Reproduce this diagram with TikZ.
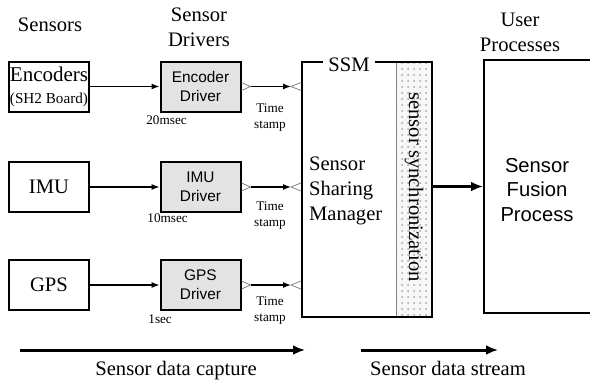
\documentclass[tikz,border=0pt]{standalone}
\usepackage{fontspec}
\setmainfont{Liberation Serif}
\setsansfont{Liberation Sans}
\usetikzlibrary{arrows.meta, positioning, calc, patterns}

\begin{document}
\begin{tikzpicture}[x=0.5pt, y=-0.5pt,
    big/.style={font=\fontsize{10.3}{12.5}\selectfont},
    small/.style={font=\fontsize{6.6}{8}\selectfont, inner sep=0pt},
    sensorbox/.style={draw, line width=1pt, minimum width=40pt, minimum height=25pt, inner sep=0pt, align=center},
    driverbox/.style={sensorbox, fill=gray!22, font=\sffamily\fontsize{7.7}{9.5}\selectfont},
    conn/.style={line width=0.6pt, -{Latex[length=4pt,width=3pt]}},
    port/.style={draw=gray, line width=0.4pt},
    bigarrow/.style={line width=1.5pt, -{Latex[length=6pt,width=5pt]}}]
            \useasboundingbox (0,0) rectangle (590,381);
            \clip (0,0) rectangle (590,381);

            % column titles
            \node[big] (hsensors) at (50,25) {Sensors};
            \node[big, align=center] (hdrivers) at (199,27.5) {Sensor\\Drivers};
            \node[big, align=center] (huser) at (520,32.5) {User\\Processes};

            % sensors and their drivers
            \node[sensorbox] (enc) at (49,86.5) {\fontsize{10.5}{10}\selectfont Encoders\\[-1pt]{\fontsize{7.6}{9}\selectfont (SH2 Board)}};
            \node[driverbox] (encdrv) at (200.5,86.5) {Encoder\\Driver};
            \node[sensorbox, big] (imu) at (49,187) {IMU};
            \node[driverbox] (imudrv) at (200.5,187) {IMU\\Driver};
            \node[sensorbox, big] (gps) at (49,285) {GPS};
            \node[driverbox] (gpsdrv) at (200.5,285) {GPS\\Driver};

            \node[small, anchor=west] (encrate) at (146,120) {20msec};
            \node[small, anchor=west] (imurate) at (147,218) {10msec};
            \node[small, anchor=west] (gpsrate) at (148,319) {1sec};

            \node[small, align=center] (encts) at (270,118) {Time\\stamp};
            \node[small, align=center] (imuts) at (270,216) {Time\\stamp};
            \node[small, align=center] (gpsts) at (270,311) {Time\\stamp};

            % SSM with the synchronization strip
            \node[draw=gray, line width=0.4pt, preaction={fill=gray!6}, pattern=dots, pattern color=gray!70,
                  minimum width=18pt, minimum height=127.5pt, inner sep=0pt] (sync) at (414,189.5) {};
            \node[big, rotate=-90] (synctext) at (414,187) {sensor synchronization};
            \node[draw, line width=1pt, minimum width=65pt, minimum height=127.5pt, inner sep=0pt] (ssm) at (367,189.5) {};
            \node[big, fill=white, inner xsep=2.5pt, inner ysep=0pt] (ssmlabel) at (349,65) {SSM};
            \node[big, anchor=west, align=left] (ssmtext) at (302,191) {Sensor\\Sharing\\Manager};

            % fusion process (runs off the right edge)
            \node[draw, line width=1pt, minimum width=54pt, minimum height=126.5pt, inner sep=0pt] (fusion) at (538,186.5) {};
            \node[font=\sffamily\fontsize{10.1}{12.3}\selectfont, align=center] (fusiontext) at (537,190) {Sensor\\Fusion\\Process};

            % connectors
            \foreach \s/\d in {enc/encdrv, imu/imudrv, gps/gpsdrv} {
                \draw[conn] (\s) -- (\d);
                \draw[port] ($(\d.east)+(0,-4)$) -- ++(9,4) -- ++(-9,4);
                \coordinate (\d out) at ($(\d.east)+(9,0)$);
                \coordinate (\d in) at ($(ssm.west |- \d.east)+(-10,0)$);
                \draw[conn] (\d out) -- (\d in);
                \draw[port] ($(\d in)+(10,-4)$) -- (\d in) -- ($(\d in)+(10,4)$);
            }
            \draw[bigarrow] (ssm.east |- fusion.west) -- (fusion.west);

            % data flow arrows
            \coordinate (capL) at (20,350);
            \coordinate (capR) at (305,350);
            \coordinate (strL) at (361,350);
            \coordinate (strR) at (498,350);
            \draw[bigarrow] (capL) -- (capR);
            \draw[bigarrow] (strL) -- (strR);
            \node[big, anchor=base] (caplabel) at (176,375) {Sensor data capture};
            \node[big, anchor=base] (strlabel) at (448,375) {Sensor data stream};
\end{tikzpicture}
\end{document}
